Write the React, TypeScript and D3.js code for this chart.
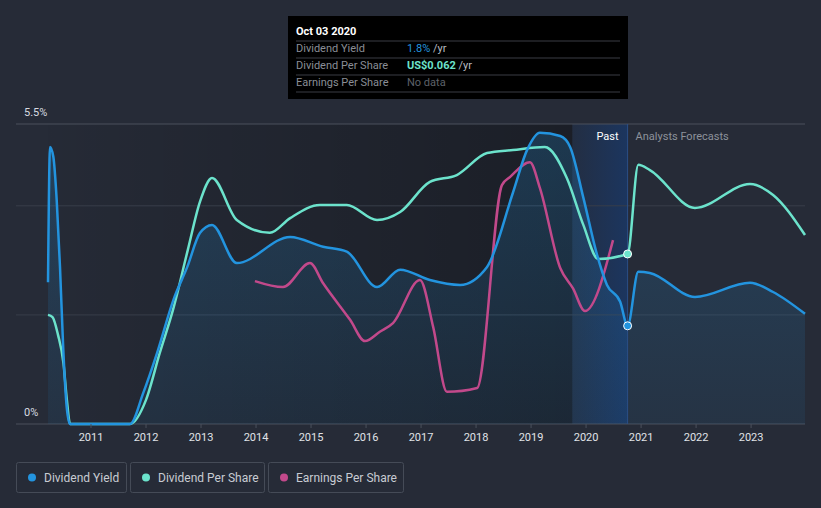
import React from "react";
import * as d3 from "d3";

// ---- data (decimal years) ----
const yieldYears = [2010.218, 2010.255, 2010.315, 2010.376, 2010.436, 2010.496, 2010.558, 2010.618, 2011.0, 2011.71, 2011.95, 2012.2, 2012.5, 2012.75, 2012.98, 2013.2, 2013.65, 2014.62, 2015.22, 2015.65, 2016.2, 2016.62, 2017.16, 2017.71, 2018.2, 2018.67, 2018.93, 2019.16, 2019.53, 2019.71, 2019.95, 2020.2, 2020.38, 2020.62, 2020.755, 2020.95, 2021.16, 2021.98, 2022.98, 2023.4, 2023.98];
const yieldValues = [2.6, 5.08, 4.9, 4.11, 2.88, 1.36, 0.31, 0, 0, 0, 0.57, 1.3, 2.28, 2.88, 3.5, 3.65, 2.95, 3.43, 3.25, 3.16, 2.51, 2.83, 2.64, 2.55, 2.88, 4.24, 5.03, 5.34, 5.28, 5.08, 4.15, 3.1, 2.55, 2.24, 1.8, 2.79, 2.77, 2.33, 2.59, 2.42, 2.02];

const dpsYears = [2010.218, 2010.3, 2010.4, 2010.5, 2010.56, 2010.62, 2011.0, 2011.71, 2012.0, 2012.25, 2012.49, 2012.76, 2012.98, 2013.2, 2013.65, 2014.25, 2014.62, 2015.16, 2015.65, 2016.2, 2016.62, 2017.16, 2017.65, 2018.2, 2018.67, 2019.25, 2019.65, 2019.95, 2020.22, 2020.755, 2020.95, 2021.16, 2021.98, 2022.98, 2023.4, 2023.98];
const dpsValues = [0.0398, 0.039, 0.0325, 0.022, 0.009, 0, 0, 0, 0.0088, 0.0259, 0.0416, 0.0635, 0.081, 0.0897, 0.0744, 0.0697, 0.0751, 0.0799, 0.0799, 0.0744, 0.0773, 0.0883, 0.0908, 0.0988, 0.0999, 0.101, 0.0897, 0.0726, 0.0602, 0.062, 0.0945, 0.0926, 0.0788, 0.0875, 0.0835, 0.0689];

const epsYears = [2013.98, 2014.49, 2014.98, 2015.22, 2015.71, 2015.98, 2016.25, 2016.49, 2016.98, 2017.22, 2017.47, 2018.02, 2018.47, 2018.62, 2018.98, 2019.16, 2019.53, 2019.76, 2019.98, 2020.49];
const epsValues = [0.262, 0.251, 0.295, 0.258, 0.191, 0.152, 0.169, 0.185, 0.264, 0.178, 0.059, 0.066, 0.438, 0.453, 0.48, 0.433, 0.286, 0.249, 0.207, 0.337];

const yearTicks = [2011, 2012, 2013, 2014, 2015, 2016, 2017, 2018, 2019, 2020, 2021, 2022, 2023];
const gridValues = [0, 2, 4, 5.5];
const yLabels = [{ v: 5.5, t: "5.5%" }, { v: 0, t: "0%" }];

const nowYear = 2020.755;
const bandStart = 2019.75;
const legendItems = [
  { label: "Dividend Yield", color: "#2394df" },
  { label: "Dividend Per Share", color: "#6ce3cc" },
  { label: "Earnings Per Share", color: "#c2498b" },
];

const W = 821, H = 508;
const FONT = "Roboto, 'Noto Sans', sans-serif";

export default function App() {
  const x = d3.scaleLinear().domain([2010.218, 2023.98]).range([48, 805]);
  const yY = d3.scaleLinear().domain([0, 5.5]).range([424, 124]);
  const yD = d3.scaleLinear().domain([0, 0.1094]).range([424, 124]);
  const yE = d3.scaleLinear().domain([0, 0.55]).range([424, 124]);

  const yieldData = yieldYears.map((t, i) => [t, yieldValues[i]] as [number, number]);
  const dpsData = dpsYears.map((t, i) => [t, dpsValues[i]] as [number, number]);
  const epsData = epsYears.map((t, i) => [t, epsValues[i]] as [number, number]);

  const curve = d3.curveMonotoneX;
  const lineY = d3.line<[number, number]>().x(d => x(d[0])).y(d => yY(d[1])).curve(curve);
  const areaY = d3.area<[number, number]>().x(d => x(d[0])).y0(yY(0)).y1(d => yY(d[1])).curve(curve);
  const lineD = d3.line<[number, number]>().x(d => x(d[0])).y(d => yD(d[1])).curve(curve);
  const lineE = d3.line<[number, number]>().x(d => x(d[0])).y(d => yE(d[1])).curve(curve);

  const xNow = x(nowYear);
  const xBand = x(bandStart);
  const nowYield = yieldValues[yieldYears.indexOf(nowYear)];
  const nowDps = dpsValues[dpsYears.indexOf(nowYear)];

  const legendX = [16, 130, 268];
  const legendW = [110, 134, 135];

  return (
    <svg width={W} height={H} style={{ position: "absolute", left: 0, top: 0, display: "block" }} fontFamily={FONT}>
      <defs>
        <linearGradient id="pastGrad" x1="0" y1="0" x2="1" y2="0">
          <stop offset="0" stopColor="#000" stopOpacity="0.02" />
          <stop offset="1" stopColor="#000" stopOpacity="0.3" />
        </linearGradient>
        <linearGradient id="bandGrad" x1="0" y1="0" x2="1" y2="0">
          <stop offset="0" stopColor="#173a70" stopOpacity="0.2" />
          <stop offset="1" stopColor="#173a70" stopOpacity="0.7" />
        </linearGradient>
        <linearGradient id="areaGrad" x1="0" y1="0" x2="0" y2="1">
          <stop offset="0" stopColor="#2394df" stopOpacity="0.22" />
          <stop offset="1" stopColor="#2394df" stopOpacity="0.08" />
        </linearGradient>
      </defs>
      <rect x={0} y={0} width={W} height={H} fill="#262b37" />
      {/* past region */}
      <rect x={48} y={124} width={xBand - 48} height={300} fill="url(#pastGrad)" />
      <rect x={xBand} y={124} width={xNow - xBand} height={300} fill="url(#bandGrad)" />
      {/* grid */}
      {gridValues.map(v => (
        <line key={v} x1={16} x2={805} y1={yY(v)} y2={yY(v)} stroke={v === 0 || v === 5.5 ? "#4a505c" : "#383e4a"} strokeWidth={1} />
      ))}
      {yLabels.map(l => (
        <text key={l.t} x={24} y={yY(l.v) - 8} fill="#d8dbe0" fontSize={11}>{l.t}</text>
      ))}
      {/* area */}
      <path d={areaY(yieldData) || ""} fill="url(#areaGrad)" />
      <line x1={xNow} x2={xNow} y1={124} y2={424} stroke="#2b4f86" strokeWidth={1} />
      {/* lines */}
      <path d={lineE(epsData) || ""} fill="none" stroke="#c2498b" strokeWidth={2.5} />
      <path d={lineD(dpsData) || ""} fill="none" stroke="#6ce3cc" strokeWidth={2.5} />
      <path d={lineY(yieldData) || ""} fill="none" stroke="#2394df" strokeWidth={2.5} />
      <circle cx={xNow} cy={yD(nowDps)} r={4} fill="#6ce3cc" stroke="#fff" strokeWidth={1} />
      <circle cx={xNow} cy={yY(nowYield)} r={4} fill="#2394df" stroke="#fff" strokeWidth={1} />
      {/* labels */}
      <text x={xNow - 9} y={140} textAnchor="end" fill="#ffffff" fontSize={11}>Past</text>
      <text x={xNow + 8} y={140} fill="#8d929b" fontSize={11}>Analysts Forecasts</text>
      {/* x axis */}
      {yearTicks.map(t => (
        <g key={t}>
          <line x1={x(t)} x2={x(t)} y1={424} y2={428} stroke="#4a505c" />
          <text x={x(t)} y={441} textAnchor="middle" fill="#e0e3e8" fontSize={11}>{t}</text>
        </g>
      ))}
      {/* tooltip */}
      <rect x={288} y={16} width={340} height={83} fill="#000" />
      <text x={296} y={35} fill="#fff" fontSize={11} fontWeight="bold">Oct 03 2020</text>
      {[41, 58, 75, 92].map(yv => (
        <line key={yv} x1={296} x2={620} y1={yv} y2={yv} stroke="#3a3d44" />
      ))}
      <text x={296} y={52} fill="#8a8e96" fontSize={11}>Dividend Yield</text>
      <text x={407} y={52} fontSize={11}><tspan fill="#2394df">1.8%</tspan><tspan fill="#b9bcc2"> /yr</tspan></text>
      <text x={296} y={69} fill="#8a8e96" fontSize={11}>Dividend Per Share</text>
      <text x={407} y={69} fontSize={11}><tspan fill="#6ce3cc" fontWeight="bold">US$0.062</tspan><tspan fill="#b9bcc2"> /yr</tspan></text>
      <text x={296} y={86} fill="#8a8e96" fontSize={11}>Earnings Per Share</text>
      <text x={407} y={86} fill="#5e626a" fontSize={11}>No data</text>
      {/* legend */}
      {legendItems.map((it, i) => (
        <g key={it.label}>
          <rect x={legendX[i] + 0.5} y={462.5} width={legendW[i]} height={30} rx={2} fill="none" stroke="#454b57" />
          <circle cx={legendX[i] + 16} cy={477.5} r={4} fill={it.color} />
          <text x={legendX[i] + 28} y={481.5} fill="#c8ccd3" fontSize={12}>{it.label}</text>
        </g>
      ))}
    </svg>
  );
}
